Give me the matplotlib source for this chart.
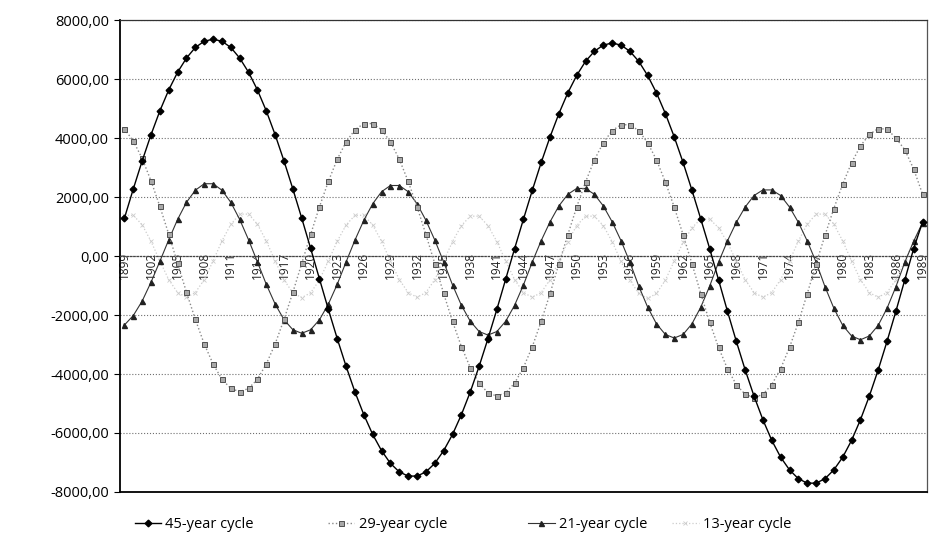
import matplotlib.pyplot as plt
from matplotlib.ticker import FuncFormatter, MultipleLocator
from matplotlib.lines import Line2D

plt.rcParams['font.family'] = ['Open Sans', 'DejaVu Sans']
plt.rcParams['axes.unicode_minus'] = False

# ---- data (one value per year, 1899-1989) ----
years = list(range(1899, 1990))

cycle_45 = [1280, 2270, 3220, 4110, 4920, 5630, 6230, 6710, 7070, 7280,
            7350, 7280, 7070, 6710, 6230, 5630, 4920, 4110, 3220, 2270,
            1280, 260, -780, -1810, -2800, -3740, -4610, -5380, -6050, -6600,
            -7030, -7320, -7460, -7460, -7320, -7030, -6600, -6050, -5380, -4610,
            -3740, -2800, -1810, -780, 250, 1250, 2230, 3170, 4040, 4830,
            5530, 6120, 6600, 6940, 7150, 7220, 7150, 6940, 6600, 6120,
            5530, 4830, 4040, 3170, 2230, 1250, 250, -810, -1870, -2890,
            -3860, -4750, -5550, -6250, -6820, -7250, -7550, -7700, -7700, -7550,
            -7250, -6820, -6250, -5550, -4750, -3860, -2890, -1870, -810, 250,
            1150]

cycle_29 = [4310, 3900, 3310, 2550, 1680, 740, -250, -1230, -2150, -2980,
            -3660, -4180, -4490, -4600, -4490, -4180, -3660, -2980, -2150, -1230,
            -250, 730, 1670, 2530, 3280, 3870, 4280, 4490, 4490, 4280,
            3870, 3280, 2530, 1670, 730, -260, -1270, -2220, -3070, -3780,
            -4310, -4640, -4750, -4640, -4310, -3780, -3070, -2220, -1270, -260,
            720, 1660, 2510, 3260, 3840, 4250, 4450, 4450, 4250, 3840,
            3260, 2510, 1660, 720, -260, -1280, -2250, -3100, -3820, -4360,
            -4690, -4800, -4690, -4360, -3820, -3100, -2250, -1280, -260, 700,
            1610, 2440, 3160, 3730, 4120, 4320, 4300, 4000, 3600, 2950,
            2100]

cycle_21 = [-2340, -2020, -1530, -890, -180, 550, 1240, 1820, 2230, 2450,
            2450, 2230, 1820, 1240, 550, -200, -960, -1630, -2160, -2500,
            -2620, -2500, -2160, -1630, -960, -200, 540, 1210, 1770, 2180,
            2390, 2390, 2180, 1770, 1210, 540, -200, -980, -1670, -2210,
            -2560, -2680, -2560, -2210, -1670, -980, -200, 520, 1160, 1700,
            2090, 2290, 2290, 2090, 1700, 1160, 520, -210, -1020, -1730,
            -2300, -2660, -2780, -2660, -2300, -1730, -1020, -210, 510, 1140,
            1660, 2050, 2240, 2240, 2050, 1660, 1140, 510, -210, -1040,
            -1770, -2350, -2710, -2840, -2710, -2350, -1770, -1040, -210, 500,
            1130]

cycle_13 = [1380, 1380, 1060, 500, -170, -800, -1240, -1400, -1240, -800,
            -170, 510, 1070, 1420, 1420, 1080, 510, -170, -810, -1250,
            -1410, -1250, -810, -170, 500, 1050, 1380, 1380, 1050, 500,
            -170, -800, -1240, -1400, -1240, -800, -170, 490, 1030, 1350,
            1350, 1030, 490, -170, -800, -1240, -1400, -1240, -800, -170,
            490, 1030, 1350, 1350, 1030, 490, -180, -820, -1270, -1440,
            -1270, -820, -170, 460, 960, 1250, 1250, 960, 460, -170,
            -800, -1240, -1400, -1240, -800, -170, 510, 1080, 1420, 1420,
            1080, 510, -170, -800, -1240, -1400, -1240, -800, -170, 500,
            1050]

labels = ['45-year cycle', '29-year cycle', '21-year cycle', '13-year cycle']
tick_years = years[::3]

styles = [
    dict(color='black', lw=1.0, ls='-', marker='D', ms=3.4, mfc='black', mec='black'),
    dict(color='#8a8a8a', lw=1.0, ls=':', marker='s', ms=3.6, mfc='#a8a8a8', mec='#505050', mew=0.7),
    dict(color='#333333', lw=0.8, ls='-', marker='^', ms=3.6, mfc='#222222', mec='#222222'),
    dict(color='#cccccc', lw=0.9, ls=':', marker='x', ms=2.5, mec='#cccccc', mew=0.6),
]

fig = plt.figure(figsize=(9.35, 5.44), dpi=100)
ax = fig.add_axes([0.1283, 0.0956, 0.8631, 0.8676])

series = [cycle_45, cycle_29, cycle_21, cycle_13]
zorders = [5, 4, 3, 2]
for vals, st, z in zip(series, styles, zorders):
    ax.plot(years, vals, zorder=z, **st)

ax.set_xlim(1898.5, 1989.5)
ax.set_ylim(-8000, 8000)

ax.yaxis.set_major_locator(MultipleLocator(2000))
ax.yaxis.set_major_formatter(FuncFormatter(lambda v, p: f"{v:.2f}".replace('.', ',')))
ax.grid(axis='y', ls=':', color='#707070', lw=0.8, zorder=0)

# category axis crosses at zero; year labels hang across it
ax.set_xticks(tick_years)
ax.tick_params(axis='x', length=0, labelbottom=False)
for yr in tick_years:
    ax.annotate(str(yr), (yr, 0), xytext=(0, 3), textcoords='offset points',
                rotation=90, ha='center', va='top', fontsize=8.5,
                color='#222222', zorder=1)

ax.spines['bottom'].set_position(('data', 0))
ax.spines['bottom'].set_linestyle(':')
ax.spines['bottom'].set_color('#444444')
ax.spines['bottom'].set_linewidth(0.9)
ax.spines['left'].set_linewidth(1.3)
ax.spines['top'].set_color('#333333')
ax.spines['top'].set_linewidth(0.9)
ax.spines['right'].set_color('#555555')
ax.spines['right'].set_linewidth(0.9)
ax.axhline(-8000, color='black', lw=1.3, zorder=6, clip_on=False)

ax.tick_params(axis='y', length=4, width=0.8, direction='out', labelsize=10.5, pad=4)

# legend entries spread along the bottom
legend_x = [0.144, 0.351, 0.565, 0.719]
for lab, st, x in zip(labels, styles, legend_x):
    h = Line2D([0], [0], **st)
    fig.legend([h], [lab], loc='center left', bbox_to_anchor=(x, 0.036),
               frameon=False, borderpad=0, borderaxespad=0,
               handlelength=1.8, handletextpad=0.3, fontsize=10.5)

fig.savefig('out.png', dpi=100, facecolor='white')
